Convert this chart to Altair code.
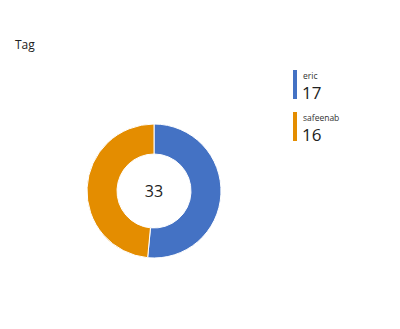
import altair as alt
import pandas as pd

names = ["eric", "safeenab"]
values = [17, 16]
colors = ["#4472C4", "#E48D00"]
total = sum(values)

df = pd.DataFrame({"name": names, "value": values, "idx": list(range(len(names)))})

color_scale = alt.Scale(domain=names, range=colors)

donut = alt.Chart(df).mark_arc(innerRadius=37, outerRadius=67, stroke="white", strokeWidth=1).encode(
    theta=alt.Theta("value:Q", stack=True),
    color=alt.Color("name:N", scale=color_scale, legend=None),
    order=alt.Order("idx:Q"),
    x=alt.value(154),
    y=alt.value(191),
)

center = alt.Chart(pd.DataFrame({"t": [str(total)]})).mark_text(
    font="Open Sans", fontSize=16, color="#222222", align="center", baseline="middle"
).encode(text="t:N", x=alt.value(154), y=alt.value(192))

title = alt.Chart(pd.DataFrame({"t": ["Tag"]})).mark_text(
    font="Open Sans", fontSize=12, color="#222222", align="left", baseline="alphabetic"
).encode(text="t:N", x=alt.value(15), y=alt.value(49))

leg = alt.Chart(df).transform_calculate(
    y0="datum.idx * 42 + 70",
    y1="datum.idx * 42 + 99",
    yl="datum.idx * 42 + 78.5",
    yv="datum.idx * 42 + 99",
)

bars = leg.mark_rule(strokeWidth=4).encode(
    x=alt.value(295),
    y=alt.Y("y0:Q", scale=None),
    y2="y1:Q",
    color=alt.Color("name:N", scale=color_scale, legend=None),
)

labels = leg.mark_text(font="Open Sans", fontSize=8.5, color="#333333", align="left", baseline="alphabetic").encode(
    x=alt.value(303), y=alt.Y("yl:Q", scale=None), text="name:N"
)

vals = leg.mark_text(font="Open Sans", fontSize=17, color="#222222", align="left", baseline="alphabetic").encode(
    x=alt.value(302), y=alt.Y("yv:Q", scale=None), text="value:Q"
)

chart = alt.layer(donut, center, title, bars, labels, vals).properties(
    width=400, height=329, autosize=alt.AutoSizeParams(type="none"), padding=0
).configure_view(stroke=None)

chart.save("out.html", embed_options={"renderer": "svg", "actions": False})
